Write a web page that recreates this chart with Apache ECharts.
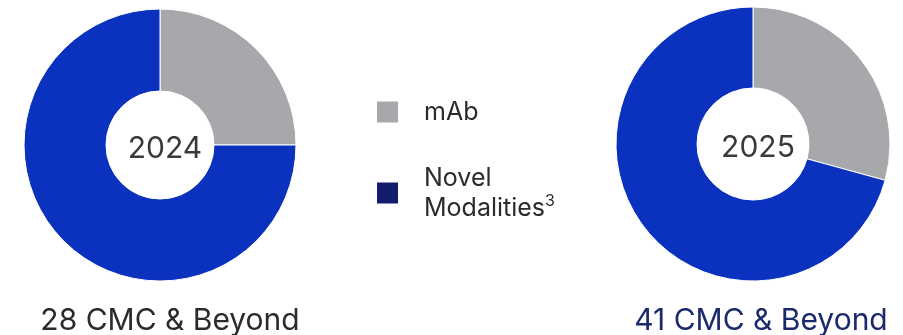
<!DOCTYPE html>
<html>
<head>
<meta charset="utf-8">
<style>
  html, body { margin: 0; padding: 0; background: #ffffff; }
  #chart { width: 903px; height: 335px; }
</style>
<script src="https://cdn.jsdelivr.net/npm/echarts@6/dist/echarts.min.js"></script>
</head>
<body>
<div id="chart"></div>
<script>
// Programme counts by modality, per year
const years = ['2024', '2025'];
const categories = ['mAb', 'Novel Modalities'];
const mAbCounts = [7, 12];
const novelCounts = [21, 29];
const totals = [28, 41];
const footerLabels = ['28 CMC & Beyond', '41 CMC & Beyond'];

const FONT = 'Inter, "Noto Sans", sans-serif';
const GREY = '#a7a8ac';
const BLUE = '#0a32be';
const NAVY = '#141c6e';

const chart = echarts.init(document.getElementById('chart'), null, { renderer: 'canvas' });

const layouts = [
  { center: [160, 145], radius: [54, 136], footerX: 165, footerColor: '#2b2b2b' },
  { center: [753, 144], radius: [56, 137], footerX: 756, footerColor: '#1b2a6b' }
];

const series = years.map((y, i) => ({
  type: 'pie',
  name: y,
  center: layouts[i].center,
  radius: layouts[i].radius,
  startAngle: 90,
  clockwise: true,
  silent: true,
  label: { show: false },
  labelLine: { show: false },
  itemStyle: { borderColor: '#ffffff', borderWidth: 1 },
  data: [
    { name: categories[0], value: mAbCounts[i], itemStyle: { color: GREY } },
    { name: categories[1], value: novelCounts[i], itemStyle: { color: BLUE } }
  ]
}));

const titles = [];
years.forEach((y, i) => {
  titles.push({
    text: y,
    left: layouts[i].center[0],
    top: layouts[i].center[1] - 1,
    textAlign: 'center',
    textVerticalAlign: 'middle',
    textStyle: { fontFamily: FONT, fontSize: 30, fontWeight: 'normal', color: '#3a3a3a' }
  });
  titles.push({
    text: footerLabels[i],
    left: layouts[i].footerX,
    top: 316,
    textAlign: 'center',
    textVerticalAlign: 'middle',
    textStyle: { fontFamily: FONT, fontSize: 30, fontWeight: 'normal', color: layouts[i].footerColor }
  });
});

chart.setOption({
  animation: false,
  title: titles,
  legend: {
    orient: 'vertical',
    left: 370,
    top: 92,
    itemWidth: 23,
    itemHeight: 23,
    itemGap: 36,
    icon: 'rect',
    selectedMode: false,
    data: [
      { name: categories[0], itemStyle: { color: GREY } },
      { name: categories[1], itemStyle: { color: NAVY } }
    ],
    formatter: name => name === categories[1] ? 'Novel\nModalities{sup|3}' : name,
    textStyle: {
      fontFamily: FONT,
      fontSize: 25,
      color: '#2b2b2b',
      lineHeight: 30,
      padding: [0, 0, 0, 20],
      rich: {
        sup: { fontFamily: FONT, fontSize: 16, color: '#2b2b2b', verticalAlign: 'top', lineHeight: 30, padding: [0, 0, 10, 0] }
      }
    }
  },
  series: series
});
</script>
</body>
</html>
